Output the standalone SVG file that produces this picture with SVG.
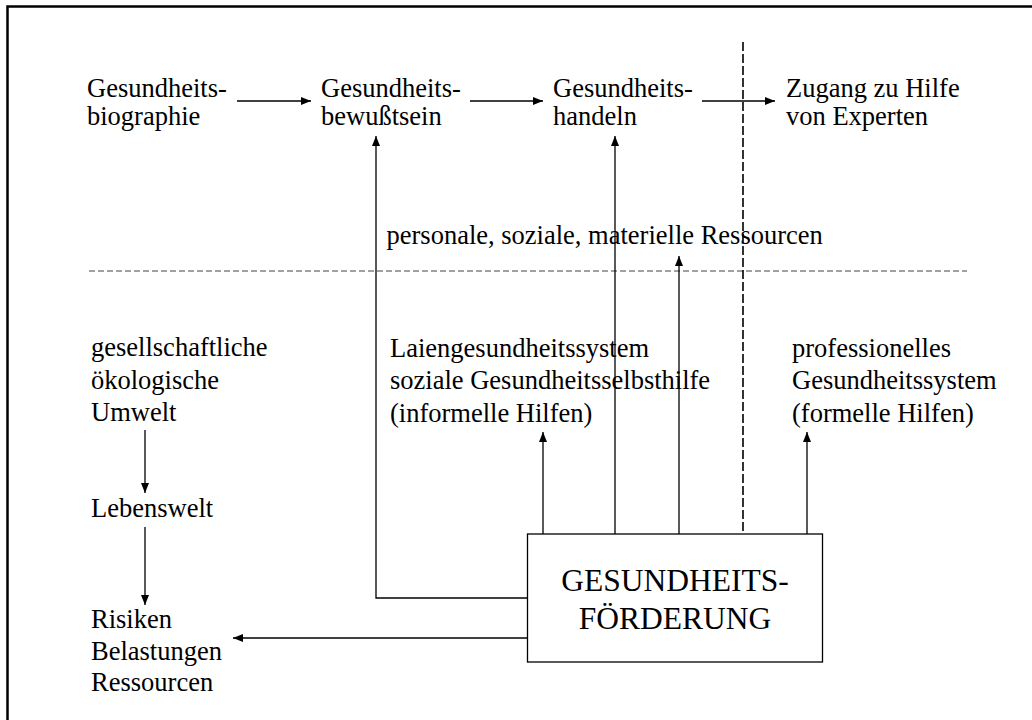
<svg xmlns="http://www.w3.org/2000/svg" width="1032" height="720" viewBox="0 0 1032 720">
  <style>
    text { font-family: "Liberation Serif", "Times New Roman", serif; font-size: 26.5px; fill: #000; }
    .box-label { font-size: 31.5px; text-anchor: middle; }
    .edge { stroke: #000; stroke-width: 1.3; fill: none; }
    .frame { stroke: #000; stroke-width: 2.5; fill: none; }
    .divider-h { stroke: #444; stroke-width: 1; stroke-dasharray: 6 3; fill: none; }
    .divider-v { stroke: #000; stroke-width: 1.6; stroke-dasharray: 9 3; fill: none; }
  </style>
  <defs>
    <marker id="arrow" markerWidth="10" markerHeight="8" refX="10" refY="4" orient="auto" markerUnits="userSpaceOnUse">
      <path d="M0,0 L10,4 L0,8 Z" fill="#000"/>
    </marker>
  </defs>

  <rect width="1032" height="720" fill="#fff"/>

  <!-- page frame (open at right and bottom) -->
  <g id="frame">
    <path class="frame" d="M7.5,720 L7.5,6.5 L1032,6.5"/>
  </g>

  <!-- section dividers -->
  <g id="dividers">
    <line class="divider-h" x1="89" y1="271" x2="967" y2="271"/>
    <line class="divider-v" x1="743" y1="42" x2="743" y2="534"/>
  </g>

  <!-- connectors -->
  <g id="connectors">
    <line class="edge" x1="237" y1="101" x2="311" y2="101" marker-end="url(#arrow)"/>
    <line class="edge" x1="470" y1="101" x2="543" y2="101" marker-end="url(#arrow)"/>
    <line class="edge" x1="702" y1="101" x2="775" y2="101" marker-end="url(#arrow)"/>
    <polyline class="edge" points="527.5,598 376,598 376,136" marker-end="url(#arrow)"/>
    <line class="edge" x1="615" y1="534" x2="615" y2="136" marker-end="url(#arrow)"/>
    <line class="edge" x1="679" y1="534" x2="679" y2="256" marker-end="url(#arrow)"/>
    <line class="edge" x1="543" y1="534" x2="543" y2="432" marker-end="url(#arrow)"/>
    <line class="edge" x1="807" y1="534" x2="807" y2="432" marker-end="url(#arrow)"/>
    <line class="edge" x1="527.5" y1="638" x2="233" y2="638" marker-end="url(#arrow)"/>
    <line class="edge" x1="145" y1="430" x2="145" y2="493" marker-end="url(#arrow)"/>
    <line class="edge" x1="145" y1="527" x2="145" y2="605" marker-end="url(#arrow)"/>
  </g>

  <!-- upper row -->
  <g id="biographie">
    <text x="87" y="97">Gesundheits-</text>
    <text x="87" y="125">biographie</text>
  </g>
  <g id="bewusstsein">
    <text x="321" y="97">Gesundheits-</text>
    <text x="321" y="125">bewußtsein</text>
  </g>
  <g id="handeln">
    <text x="553" y="97">Gesundheits-</text>
    <text x="553" y="125">handeln</text>
  </g>
  <g id="zugang">
    <text x="786" y="97">Zugang zu Hilfe</text>
    <text x="786" y="125">von Experten</text>
  </g>
  <g id="ressourcen">
    <text x="386.5" y="244">personale, soziale, materielle Ressourcen</text>
  </g>

  <!-- lower row -->
  <g id="umwelt">
    <text x="91" y="356">gesellschaftliche</text>
    <text x="91" y="388.5">ökologische</text>
    <text x="91" y="421">Umwelt</text>
  </g>
  <g id="lebenswelt">
    <text x="91" y="517">Lebenswelt</text>
  </g>
  <g id="risiken">
    <text x="91" y="628">Risiken</text>
    <text x="91" y="660">Belastungen</text>
    <text x="91" y="691">Ressourcen</text>
  </g>
  <g id="laiensystem">
    <text x="390" y="356.5">Laiengesundheitssystem</text>
    <text x="390" y="389">soziale Gesundheitsselbsthilfe</text>
    <text x="390" y="421.5">(informelle Hilfen)</text>
  </g>
  <g id="profisystem">
    <text x="792" y="356.5">professionelles</text>
    <text x="792" y="389">Gesundheitssystem</text>
    <text x="792" y="421.5">(formelle Hilfen)</text>
  </g>

  <g id="foerderung">
    <rect x="527.5" y="534" width="295" height="128" fill="#fff" stroke="#000" stroke-width="1.3"/>
    <text class="box-label" x="675" y="591">GESUNDHEITS-</text>
    <text class="box-label" x="675" y="629">FÖRDERUNG</text>
  </g>
</svg>
